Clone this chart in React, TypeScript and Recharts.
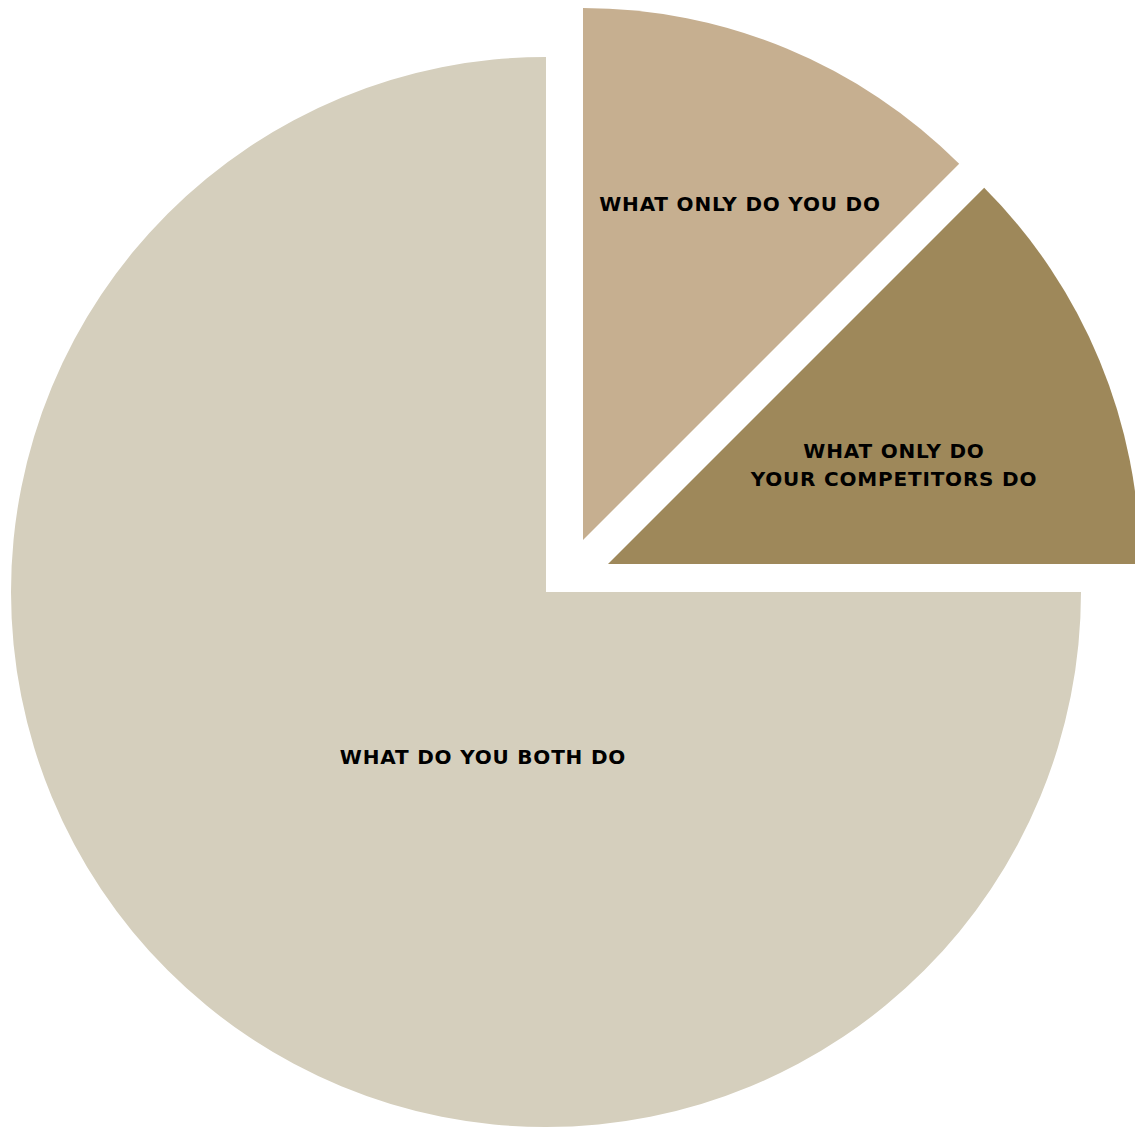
import { Cell, Pie, PieChart } from "recharts";

const segments = ["WHAT DO YOU BOTH DO", "WHAT ONLY DO\nYOUR COMPETITORS DO", "WHAT ONLY DO YOU DO"];
const shares = [75, 12.5, 12.5];
const colors = ["#d5cfbd", "#9e885a", "#c6af90"];

const data = segments.map((name, i) => ({ name, value: shares[i] }));

// each slice is pulled out on its own, so each gets its own centre
const centers = [
  { cx: 546, cy: 592, r: 535 },
  { cx: 608, cy: 564, r: 532 },
  { cx: 583, cy: 540, r: 532 },
];
const labelOffsets = [
  { dx: -63, dy: 165 },
  { dx: 286, dy: -99 },
  { dx: 157, dy: -336 },
];

function makeLabel(slice: number) {
  return (props: any) => {
    if (props.index !== slice) return null;
    const lines = String(props.name).split("\n");
    const x = centers[slice].cx + labelOffsets[slice].dx;
    const y = centers[slice].cy + labelOffsets[slice].dy - ((lines.length - 1) * 28) / 2;
    return (
      <text
        x={x}
        y={y}
        textAnchor="middle"
        dominantBaseline="central"
        fill="#000"
        fontFamily="'DejaVu Sans', sans-serif"
        fontWeight={700}
        fontSize={20}
        letterSpacing={0.8}
      >
        {lines.map((l, j) => (
          <tspan key={j} x={x} dy={j === 0 ? 0 : 28}>
            {l}
          </tspan>
        ))}
      </text>
    );
  };
}

export default function App() {
  return (
    <div style={{ position: "absolute", left: 0, top: 0, background: "#fff" }}>
      <PieChart width={1135} height={1128} margin={{ top: 0, right: 0, bottom: 0, left: 0 }}>
        {centers.map((c, slice) => (
          <Pie
            key={slice}
            data={data}
            dataKey="value"
            nameKey="name"
            cx={c.cx}
            cy={c.cy}
            outerRadius={c.r}
            innerRadius={0}
            startAngle={90}
            endAngle={450}
            stroke="none"
            labelLine={false}
            label={makeLabel(slice)}
            isAnimationActive={false}
          >
            {data.map((d, i) => (
              <Cell key={d.name} fill={i === slice ? colors[i] : "none"} stroke="none" />
            ))}
          </Pie>
        ))}
      </PieChart>
    </div>
  );
}
